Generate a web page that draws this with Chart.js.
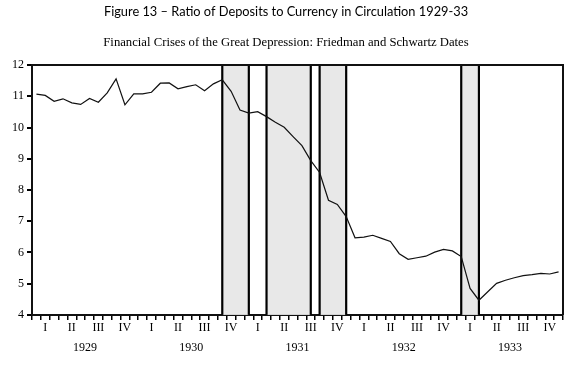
<!DOCTYPE html>
<html>
<head>
<meta charset="utf-8">
<script src="https://cdn.jsdelivr.net/npm/chart.js@4/dist/chart.umd.min.js"></script>
<style>
  html, body { margin: 0; padding: 0; background: #fff; }
  #wrap { width: 576px; height: 365px; }
</style>
</head>
<body>
<div id="wrap"><canvas id="c" width="576" height="365"></canvas></div>
<script>
// ---- Data ----
const years = ['1929', '1930', '1931', '1932', '1933'];
const quarterLabels = ['I', 'II', 'III', 'IV'];
// Monthly ratio of deposits to currency, Jan 1929 .. Dec 1933
const ratio1929 = [11.07, 11.03, 10.84, 10.92, 10.79, 10.74, 10.93, 10.81, 11.11, 11.56, 10.73, 11.08];
const ratio1930 = [11.08, 11.13, 11.42, 11.43, 11.24, 11.31, 11.37, 11.18, 11.40, 11.53, 11.16, 10.56];
const ratio1931 = [10.46, 10.51, 10.35, 10.17, 10.01, 9.71, 9.42, 8.94, 8.56, 7.67, 7.54, 7.15];
const ratio1932 = [6.47, 6.49, 6.55, 6.45, 6.35, 5.96, 5.78, 5.83, 5.88, 6.01, 6.10, 6.05];
const ratio1933 = [5.87, 4.85, 4.47, 4.74, 5.01, 5.11, 5.19, 5.26, 5.29, 5.33, 5.31, 5.38];
// Friedman & Schwartz crisis periods (month index from Jan 1929, mid-month)
const crisisStart = [21.5, 26.5, 32.5, 48.5];
const crisisEnd   = [24.5, 31.5, 35.5, 50.5];
const yTicks = [4, 5, 6, 7, 8, 9, 10, 11, 12];

const ratio = [].concat(ratio1929, ratio1930, ratio1931, ratio1932, ratio1933);
const nMonths = ratio.length;
const points = ratio.map((v, i) => ({ x: i + 0.5, y: v }));

const SERIF = '"Liberation Serif", "Times New Roman", serif';

const crisisPlugin = {
  id: 'crisis',
  beforeDatasetsDraw(chart) {
    const { ctx, chartArea, scales } = chart;
    const xs = scales.x;
    ctx.save();
    for (let k = 0; k < crisisStart.length; k++) {
      const a = xs.getPixelForValue(crisisStart[k]);
      const b = xs.getPixelForValue(crisisEnd[k]);
      ctx.fillStyle = '#e8e8e8';
      ctx.fillRect(a, chartArea.top, b - a, chartArea.bottom - chartArea.top);
      ctx.strokeStyle = '#000';
      ctx.lineWidth = 2.2;
      [a, b].forEach(p => {
        ctx.beginPath();
        ctx.moveTo(p, chartArea.top);
        ctx.lineTo(p, chartArea.bottom);
        ctx.stroke();
      });
    }
    ctx.restore();
  },
  afterDraw(chart) {
    const { ctx, chartArea } = chart;
    ctx.save();
    ctx.strokeStyle = '#111';
    ctx.lineWidth = 2;
    ctx.beginPath();
    ctx.moveTo(chartArea.left, chartArea.top);
    ctx.lineTo(chartArea.right, chartArea.top);
    ctx.lineTo(chartArea.right, chartArea.bottom);
    ctx.stroke();
    ctx.restore();
  }
};

new Chart(document.getElementById('c'), {
  type: 'scatter',
  data: {
    datasets: [{
      data: points,
      showLine: true,
      borderColor: '#111',
      borderWidth: 1.2,
      pointRadius: 0,
      tension: 0
    }]
  },
  options: {
    responsive: false,
    animation: false,
    events: [],
    layout: { padding: { left: 9, right: 13, top: 0, bottom: 6.3 } },
    plugins: {
      legend: { display: false },
      tooltip: { enabled: false },
      title: {
        display: true,
        text: 'Figure 13 \u2013 Ratio of Deposits to Currency in Circulation 1929-33',
        color: '#000',
        font: { family: 'Lato, "Open Sans", sans-serif', size: 12.8, weight: 'normal' },
        padding: { top: 4, bottom: 12 }
      },
      subtitle: {
        display: true,
        text: 'Financial Crises of the Great Depression: Friedman and Schwartz Dates',
        color: '#000',
        font: { family: SERIF, size: 12.7, weight: 'normal' },
        padding: { top: 4, bottom: 14.5 }
      }
    },
    scales: {
      x: {
        type: 'linear',
        position: 'bottom',
        min: 0,
        max: nMonths,
        weight: 0,
        afterBuildTicks(scale) {
          const t = [];
          for (let m = 0; m <= nMonths; m++) t.push({ value: m });
          for (let q = 0; q < nMonths / 3; q++) t.push({ value: q * 3 + 1.5 });
          t.sort((p, r) => p.value - r.value);
          scale.ticks = t;
        },
        ticks: {
          autoSkip: false,
          maxRotation: 0,
          color: '#000',
          padding: 1,
          font: { family: SERIF, size: 12 },
          callback(v) {
            if (v % 1 === 0) return '';
            const q = Math.floor(v / 3) % 4;
            return quarterLabels[q];
          }
        },
        grid: {
          drawOnChartArea: false,
          drawTicks: true,
          tickLength: 5,
          lineWidth: 1.5,
          color: '#000',
          tickColor: (c) => (c.tick && c.tick.value % 1 !== 0) ? 'rgba(0,0,0,0)' : '#000'
        },
        border: { display: true, color: '#111', width: 2 }
      },
      xYear: {
        type: 'linear',
        position: 'bottom',
        min: 0,
        max: nMonths,
        weight: 1,
        afterBuildTicks(scale) {
          scale.ticks = years.map((y, i) => ({ value: i * 12 + 6 }));
        },
        ticks: {
          autoSkip: false,
          maxRotation: 0,
          color: '#000',
          padding: 4,
          font: { family: SERIF, size: 12 },
          callback(v) { return years[Math.round((v - 6) / 12)]; }
        },
        grid: { display: false, drawTicks: false, drawOnChartArea: false },
        border: { display: false }
      },
      y: {
        type: 'linear',
        min: 4,
        max: 12,
        afterBuildTicks(scale) {
          scale.ticks = yTicks.map(v => ({ value: v }));
        },
        ticks: {
          color: '#000',
          padding: 3,
          font: { family: SERIF, size: 12 }
        },
        grid: {
          drawOnChartArea: false,
          drawTicks: true,
          tickLength: 5,
          lineWidth: 2,
          color: '#000'
        },
        border: { display: true, color: '#111', width: 2 }
      }
    }
  },
  plugins: [crisisPlugin]
});
</script>
</body>
</html>
